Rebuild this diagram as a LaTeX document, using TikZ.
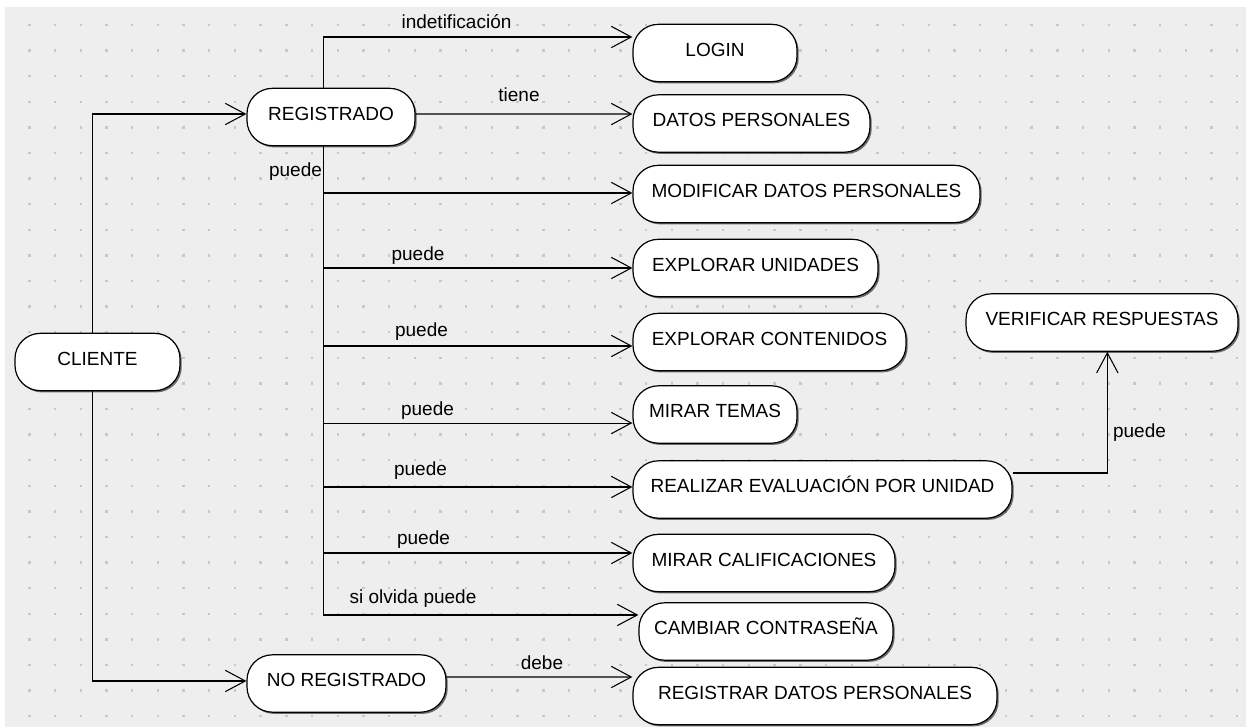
\documentclass[tikz,border=0pt]{standalone}
\usepackage{fontspec}
\setmainfont{Liberation Sans}
\usetikzlibrary{arrows.meta,shadows}
\definecolor{canvas}{HTML}{EEEEEE}
\definecolor{griddot}{HTML}{C8C8C8}
\newcommand\diagfont{\fontsize{14.25pt}{17pt}\selectfont}
\begin{document}
\begin{tikzpicture}[x=0.75pt,y=-0.75pt,
  state/.style={draw=black, line width=0.9pt, fill=white, rounded corners=19pt,
    minimum height=43pt, inner sep=0pt, text height=10.2pt, text depth=5pt,
    font=\diagfont,
    drop shadow={shadow xshift=1.3pt, shadow yshift=-1.3pt, opacity=0.55, fill=black}},
  conn/.style={line width=0.8pt, -{Straight Barb[length=15pt,width=16pt]}},
  lbl/.style={font=\diagfont, inner sep=0pt, anchor=base},
]
\useasboundingbox (0,0) rectangle (1246,727);
\fill[white] (0,0) rectangle (1246,727);
\fill[canvas] (5,7) rectangle (1246,727);
% dotted grid of the canvas
\foreach \i in {0,...,47}{
  \foreach \j in {0,...,27}{
    \fill[griddot] ({29.3+25.7*\i-1.2},{25+25.6*\j-1.2}) rectangle ++(2.4,2.4);
  }
}

% states
\node[state, minimum width=123.75pt] (cliente)    at (97.5,362)   {CLIENTE};
\node[state, minimum width=126pt]    (registrado) at (331,117)    {REGISTRADO};
\node[state, minimum width=149.25pt] (noreg)      at (346.5,683.5){NO REGISTRADO};
\node[state, minimum width=123pt]    (login)      at (715,53)     {LOGIN};
\node[state, minimum width=177.75pt] (datos)      at (751.5,123.5){DATOS PERSONALES};
\node[state, minimum width=260.25pt] (modificar)  at (806.5,194)  {MODIFICAR DATOS PERSONALES};
\node[state, minimum width=183.75pt] (unidades)   at (755.5,268)  {EXPLORAR UNIDADES};
\node[state, minimum width=204.75pt] (contenidos) at (769.5,342)  {EXPLORAR CONTENIDOS};
\node[state, minimum width=123pt]    (temas)      at (715,414.5)  {MIRAR TEMAS};
\node[state, minimum width=284.25pt] (evaluacion) at (822.5,489.5){REALIZAR EVALUACIÓN POR UNIDAD};
\node[state, minimum width=196.5pt]  (notas)      at (764,563)    {MIRAR CALIFICACIONES};
\node[state, minimum width=190.5pt]  (clave)      at (766,631.5)  {CAMBIAR CONTRASEÑA};
\node[state, minimum width=273pt]    (registrar)  at (815,696)    {REGISTRAR DATOS PERSONALES};
\node[state, minimum width=204pt]    (verificar)  at (1102,322.5) {VERIFICAR RESPUESTAS};

% connectors
\draw[conn] ([xshift=-4.1pt]cliente.north) |- ([yshift=2.25pt]registrado.west);
\draw[conn] ([xshift=-4.1pt]cliente.south) |- ([yshift=1.9pt]noreg.west);
\draw[conn] ([xshift=-5.8pt]registrado.north) |- ([yshift=12pt]login.west);
\draw[conn] ([yshift=2.25pt]registrado.east) -- ([yshift=7.1pt]datos.west);
\draw[conn] ([xshift=-5.8pt]registrado.south) |- ([yshift=0.75pt]modificar.west);
\draw[conn] ([xshift=-5.8pt]registrado.south) |- (unidades.west);
\draw[conn] ([xshift=-5.8pt]registrado.south) |- ([yshift=-3pt]contenidos.west);
\draw[conn] ([xshift=-5.8pt]registrado.south) |- ([yshift=-6.4pt]temas.west);
\draw[conn] ([xshift=-5.8pt]registrado.south) |- ([yshift=1.9pt]evaluacion.west);
\draw[conn] ([xshift=-5.8pt]registrado.south) |- ([yshift=7.5pt]notas.west);
\draw[conn] ([xshift=-5.8pt]registrado.south) |- ([yshift=12.4pt]clave.west);
\draw[conn] ([yshift=12.4pt]evaluacion.east) -| ([xshift=4pt]verificar.south);
\draw[conn] ([yshift=4.9pt]noreg.east) -- ([yshift=14.25pt]registrar.west);

% connector labels
\node[lbl] (l-ident)  at (456.5,29)  {indetificación};
\node[lbl] (l-tiene)  at (519,102)   {tiene};
\node[lbl] (l-mod)    at (295.5,177) {puede};
\node[lbl] (l-unid)   at (418,261)   {puede};
\node[lbl] (l-cont)   at (421.5,337) {puede};
\node[lbl] (l-temas)  at (427.5,415) {puede};
\node[lbl] (l-eval)   at (420.5,475) {puede};
\node[lbl] (l-notas)  at (423.5,544) {puede};
\node[lbl] (l-clave)  at (413,603)   {si olvida puede};
\node[lbl] (l-debe)   at (542,669)   {debe};
\node[lbl] (l-verif)  at (1139.5,437){puede};
\end{tikzpicture}
\end{document}
